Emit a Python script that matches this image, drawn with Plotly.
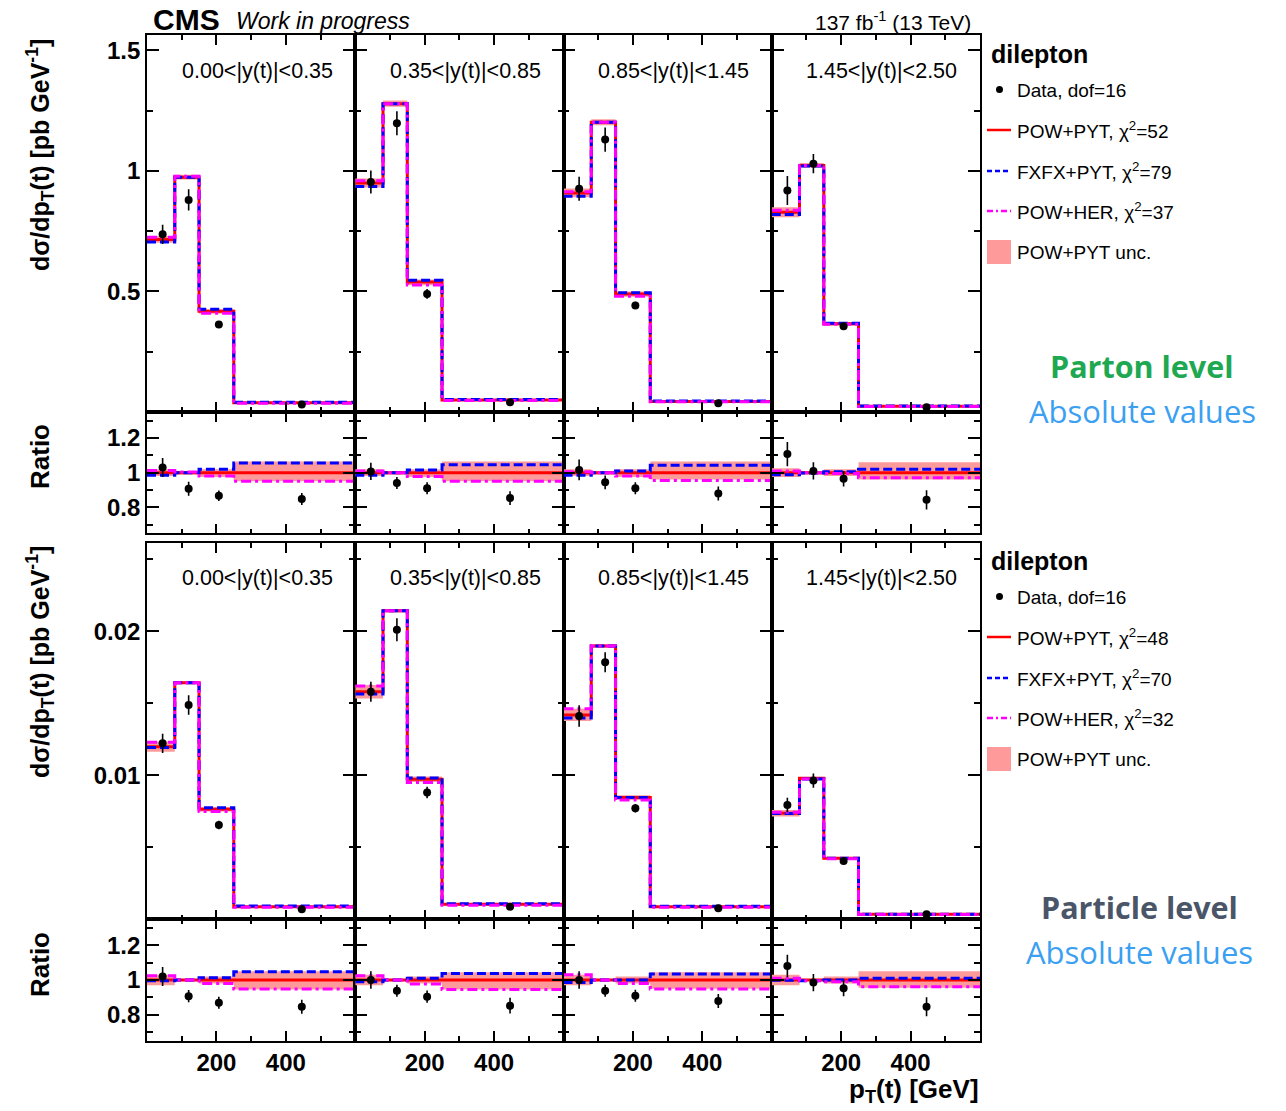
import plotly.graph_objects as go

# ---------------- data ----------------
bin_edges = [0, 80, 150, 250, 600]
data_x = [45, 120, 207, 446]
rapidity_labels = ["0.00<|y(t)|<0.35", "0.35<|y(t)|<0.85", "0.85<|y(t)|<1.45", "1.45<|y(t)|<2.50"]

# Parton level, absolute cross sections [pb/GeV]
powpyt_top = [[0.716, 0.974, 0.418, 0.038],
              [0.950, 1.279, 0.539, 0.050],
              [0.909, 1.202, 0.490, 0.044],
              [0.829, 1.023, 0.366, 0.024]]
data_top = [[0.737, 0.880, 0.363, 0.031],
            [0.954, 1.198, 0.490, 0.040],
            [0.926, 1.130, 0.442, 0.036],
            [0.919, 1.030, 0.356, 0.020]]
data_err_top = [[0.040, 0.044, 0.012, 0.003],
                [0.048, 0.050, 0.020, 0.003],
                [0.050, 0.050, 0.015, 0.003],
                [0.060, 0.040, 0.015, 0.002]]
# Parton level ratios to POW+PYT
ratio_data_top = [[1.030, 0.907, 0.867, 0.848],
                  [1.007, 0.940, 0.910, 0.853],
                  [1.016, 0.944, 0.910, 0.880],
                  [1.107, 1.010, 0.965, 0.843]]
ratio_err_top = [[0.055, 0.040, 0.030, 0.035],
                 [0.050, 0.035, 0.035, 0.040],
                 [0.060, 0.040, 0.035, 0.040],
                 [0.070, 0.050, 0.045, 0.055]]
fxfx_top = [[0.985, 1.000, 1.020, 1.055],
            [0.985, 1.000, 1.015, 1.046],
            [0.985, 1.000, 1.010, 1.042],
            [0.988, 0.998, 1.005, 1.020]]
her_top = [[1.013, 1.004, 0.980, 0.950],
           [1.010, 1.000, 0.978, 0.950],
           [1.005, 1.000, 0.980, 0.955],
           [1.010, 1.000, 0.995, 0.970]]
band_up_top = [[1.020, 1.010, 1.020, 1.065],
               [1.020, 1.010, 1.020, 1.065],
               [1.020, 1.010, 1.020, 1.065],
               [1.025, 1.010, 1.020, 1.060]]
band_dn_top = [[0.980, 0.990, 0.975, 0.950],
               [0.980, 0.990, 0.975, 0.950],
               [0.980, 0.990, 0.975, 0.960],
               [0.975, 0.990, 0.980, 0.960]]

# Particle level, absolute cross sections [pb/GeV]
powpyt_bot = [[0.01199, 0.01643, 0.00764, 0.000875],
              [0.01580, 0.02143, 0.00972, 0.00104],
              [0.01419, 0.01898, 0.00845, 0.000875],
              [0.00736, 0.00979, 0.00424, 0.00035]]
data_bot = [[0.01222, 0.01488, 0.00655, 0.00070],
            [0.01580, 0.02010, 0.00880, 0.00088],
            [0.01412, 0.01785, 0.00771, 0.00076],
            [0.00794, 0.00963, 0.00405, 0.00035]]
data_err_bot = [[0.00067, 0.00067, 0.00030, 0.00005],
                [0.00070, 0.00080, 0.00040, 0.00005],
                [0.00075, 0.00070, 0.00030, 0.00005],
                [0.00050, 0.00050, 0.00020, 0.00003]]
ratio_data_bot = [[1.020, 0.907, 0.869, 0.846],
                  [1.000, 0.938, 0.904, 0.852],
                  [1.000, 0.938, 0.909, 0.879],
                  [1.081, 0.985, 0.952, 0.846]]
ratio_err_bot = [[0.055, 0.035, 0.035, 0.040],
                 [0.050, 0.035, 0.035, 0.045],
                 [0.050, 0.035, 0.035, 0.040],
                 [0.065, 0.050, 0.045, 0.055]]
fxfx_bot = [[0.995, 1.000, 1.013, 1.048],
            [0.990, 1.000, 1.010, 1.038],
            [0.985, 1.000, 1.000, 1.035],
            [0.998, 0.995, 1.000, 1.010]]
her_bot = [[1.025, 1.000, 0.980, 0.948],
           [1.025, 1.000, 0.977, 0.945],
           [1.030, 1.000, 0.980, 0.948],
           [1.010, 0.995, 0.990, 0.961]]
band_up_bot = [[1.030, 1.005, 1.020, 1.050],
               [1.030, 1.005, 1.020, 1.045],
               [1.030, 1.005, 1.020, 1.045],
               [1.030, 1.005, 1.020, 1.050]]
band_dn_bot = [[0.970, 0.995, 0.980, 0.945],
               [0.970, 0.995, 0.980, 0.945],
               [0.970, 0.995, 0.980, 0.950],
               [0.970, 0.995, 0.980, 0.955]]

chi2_top = [52, 79, 37]
chi2_bot = [48, 70, 32]
dof = 16

# ---------------- styling ----------------
W, H = 1286, 1111
FONT = "Liberation Sans, Arial, Helvetica, sans-serif"
RED, BLUE, MAG, BAND = "#ff0000", "#0000ff", "#ff00ff", "#ff9a9a"
LW = 3
DASH_BLUE = "9px,4px"
DASH_MAG = "10px,4px,3px,4px"

def fx(p):
    return p / W

def fy(p):
    return 1 - p / H

col_px = [147, 355.25, 563.5, 771.75, 980]
row_px = [(35, 412), (412, 533.3), (542.7, 919.3), (919.3, 1040.7)]

fig = go.Figure()

def ax_names(i):
    return ("x" if i == 1 else f"x{i}"), ("y" if i == 1 else f"y{i}")

def steps(vals):
    return list(vals) + [vals[-1]]

def add_panel(i, theory, fx_ratio, her_ratio, b_up, b_dn, dvals, derr, is_ratio):
    xa, ya = ax_names(i)
    if is_ratio:
        red = [1.0] * len(theory)
        blue = fx_ratio
        mag = her_ratio
        up = b_up
        dn = b_dn
    else:
        red = theory
        blue = [t * r for t, r in zip(theory, fx_ratio)]
        mag = [t * r for t, r in zip(theory, her_ratio)]
        up = [t * r for t, r in zip(theory, b_up)]
        dn = [t * r for t, r in zip(theory, b_dn)]
    fig.add_trace(go.Scatter(x=bin_edges, y=steps(dn), mode="lines", line_shape="hv",
                             line=dict(width=0, color=BAND), xaxis=xa, yaxis=ya,
                             showlegend=False, hoverinfo="skip"))
    fig.add_trace(go.Scatter(x=bin_edges, y=steps(up), mode="lines", line_shape="hv",
                             line=dict(width=0, color=BAND), fill="tonexty", fillcolor=BAND,
                             xaxis=xa, yaxis=ya, showlegend=False, hoverinfo="skip"))
    fig.add_trace(go.Scatter(x=bin_edges, y=steps(red), mode="lines", line_shape="hv",
                             line=dict(width=LW, color=RED), xaxis=xa, yaxis=ya, showlegend=False))
    fig.add_trace(go.Scatter(x=bin_edges, y=steps(blue), mode="lines", line_shape="hv",
                             line=dict(width=LW, color=BLUE, dash=DASH_BLUE), xaxis=xa, yaxis=ya,
                             showlegend=False))
    fig.add_trace(go.Scatter(x=bin_edges, y=steps(mag), mode="lines", line_shape="hv",
                             line=dict(width=LW, color=MAG, dash=DASH_MAG), xaxis=xa, yaxis=ya,
                             showlegend=False))
    fig.add_trace(go.Scatter(x=data_x, y=dvals, mode="markers",
                             marker=dict(color="black", size=8),
                             error_y=dict(type="data", array=derr, color="black", thickness=1.6, width=0),
                             xaxis=xa, yaxis=ya, showlegend=False))

layout = dict(width=W, height=H, margin=dict(l=0, r=0, t=0, b=0),
              paper_bgcolor="white", plot_bgcolor="white", showlegend=False,
              font=dict(family=FONT, color="black"))

y_specs = [
    dict(range=[0, 1.564], tickvals=[0, 0.5, 1, 1.5], ticktext=["", "0.5", "1", "1.5"],
         minor=[0.25, 0.75, 1.25]),
    dict(range=[0.65, 1.35], tickvals=[0.8, 1.0, 1.2], ticktext=["0.8", "1", "1.2"],
         minor=[0.7, 0.9, 1.1, 1.3]),
    dict(range=[0, 0.02615], tickvals=[0, 0.01, 0.02], ticktext=["", "0.01", "0.02"],
         minor=[0.005, 0.015, 0.025]),
    dict(range=[0.65, 1.35], tickvals=[0.8, 1.0, 1.2], ticktext=["0.8", "1", "1.2"],
         minor=[0.7, 0.9, 1.1, 1.3]),
]

tickfont = dict(family=FONT, size=24, color="black", weight="bold")

for r in range(4):
    for c in range(4):
        i = r * 4 + c + 1
        xk = "xaxis" if i == 1 else f"xaxis{i}"
        yk = "yaxis" if i == 1 else f"yaxis{i}"
        xa, ya = ax_names(i)
        layout[xk] = dict(domain=[fx(col_px[c]), fx(col_px[c + 1])], anchor=ya,
                          range=[0, 600], tickvals=[0, 200, 400, 600],
                          ticktext=["", "200", "400", ""],
                          ticks="inside", ticklen=10, tickwidth=1.5, tickcolor="black",
                          minor=dict(tickvals=[100, 300, 500], ticks="inside", ticklen=5,
                                     tickwidth=1.5, tickcolor="black", showgrid=False),
                          showline=True, linecolor="black", linewidth=1.6, mirror="allticks",
                          showgrid=False, zeroline=False, showticklabels=(r == 3),
                          tickfont=tickfont, fixedrange=True)
        ys = y_specs[r]
        layout[yk] = dict(domain=[fy(row_px[r][1]), fy(row_px[r][0])], anchor=xa,
                          range=ys["range"], tickvals=ys["tickvals"], ticktext=ys["ticktext"],
                          ticks="inside", ticklen=12, tickwidth=1.5, tickcolor="black",
                          minor=dict(tickvals=ys["minor"], ticks="inside", ticklen=6,
                                     tickwidth=1.5, tickcolor="black", showgrid=False),
                          showline=True, linecolor="black", linewidth=1.6, mirror="allticks",
                          showgrid=False, zeroline=False, showticklabels=(c == 0),
                          tickfont=tickfont, fixedrange=True)

for c in range(4):
    add_panel(c + 1, powpyt_top[c], fxfx_top[c], her_top[c], band_up_top[c], band_dn_top[c],
              data_top[c], data_err_top[c], False)
    add_panel(4 + c + 1, powpyt_top[c], fxfx_top[c], her_top[c], band_up_top[c], band_dn_top[c],
              ratio_data_top[c], ratio_err_top[c], True)
    add_panel(8 + c + 1, powpyt_bot[c], fxfx_bot[c], her_bot[c], band_up_bot[c], band_dn_bot[c],
              data_bot[c], data_err_bot[c], False)
    add_panel(12 + c + 1, powpyt_bot[c], fxfx_bot[c], her_bot[c], band_up_bot[c], band_dn_bot[c],
              ratio_data_bot[c], ratio_err_bot[c], True)

annotations = []
shapes = []

def ann(text, x, y, size, xanchor="center", yanchor="middle", color="black", angle=0, family=FONT):
    annotations.append(dict(text=text, x=fx(x), y=fy(y), xref="paper", yref="paper",
                            xanchor=xanchor, yanchor=yanchor, showarrow=False, textangle=angle,
                            font=dict(family=family, size=size, color=color)))

# header
ann("<b>CMS</b>", 151, 20, 30, xanchor="left")
ann("<i>Work in progress</i>", 234, 21, 23, xanchor="left")
ann("137 fb<sup>-1</sup> (13 TeV)", 973, 21, 21, xanchor="right")

# panel labels
for c in range(4):
    xc = (col_px[c] + col_px[c + 1]) / 2 + 6
    ann(rapidity_labels[c], xc, 71, 21.5)
    ann(rapidity_labels[c], xc, 578, 21.5)

# axis titles
ytitle = "<b>d\u03c3/dp<sub>T</sub>(t) [pb GeV<sup>-1</sup>]</b>"
ann(ytitle, 40, 155, 25, angle=-90)
ann(ytitle, 40, 662, 25, angle=-90)
ann("<b>Ratio</b>", 40, 457, 26, angle=-90)
ann("<b>Ratio</b>", 40, 965, 26, angle=-90)
ann("<b>p<sub>T</sub>(t) [GeV]</b>", 981, 1090, 26, xanchor="right")

# legends (drawn by hand, one per level)
def legend_block(y0, chi2):
    ann("<b>dilepton</b>", 989, y0, 25, xanchor="left")
    ys = [y0 + 36, y0 + 76, y0 + 117, y0 + 157, y0 + 198]
    shapes.append(dict(type="circle", xref="paper", yref="paper",
                       x0=fx(996), x1=fx(1003), y0=fy(ys[0] - 4), y1=fy(ys[0] + 3),
                       fillcolor="black", line=dict(width=0)))
    ann(f"Data, dof={dof}", 1015, ys[0], 19, xanchor="left")
    names = ["POW+PYT", "FXFX+PYT", "POW+HER"]
    cols = [RED, BLUE, MAG]
    dashes = ["solid", "5px,3px", "6px,3px,2px,3px"]
    for k in range(3):
        shapes.append(dict(type="line", xref="paper", yref="paper",
                           x0=fx(987), x1=fx(1011), y0=fy(ys[k + 1]), y1=fy(ys[k + 1]),
                           line=dict(color=cols[k], width=2.5, dash=dashes[k])))
        ann(f"{names[k]}, \u03c7<sup>2</sup>={chi2[k]}", 1015, ys[k + 1], 19, xanchor="left")
    shapes.append(dict(type="rect", xref="paper", yref="paper",
                       x0=fx(987), x1=fx(1011), y0=fy(ys[4] - 12), y1=fy(ys[4] + 12),
                       fillcolor=BAND, line=dict(width=0)))
    ann("POW+PYT unc.", 1015, ys[4], 19, xanchor="left")

legend_block(54, chi2_top)
legend_block(561, chi2_bot)

# level labels
OS = "Open Sans, Liberation Sans, sans-serif"
ann("<b>Parton level</b>", 1142, 366, 30.5, color="#1fa852", family=OS)
ann("Absolute values", 1142, 411, 31, color="#3b9ff2", family=OS)
ann("<b>Particle level</b>", 1139, 907, 30.5, color="#4a5568", family=OS)
ann("Absolute values", 1139, 952, 31, color="#3b9ff2", family=OS)

layout["annotations"] = annotations
layout["shapes"] = shapes
fig.update_layout(**layout)

fig.write_html("out.html", config={"displayModeBar": False})
